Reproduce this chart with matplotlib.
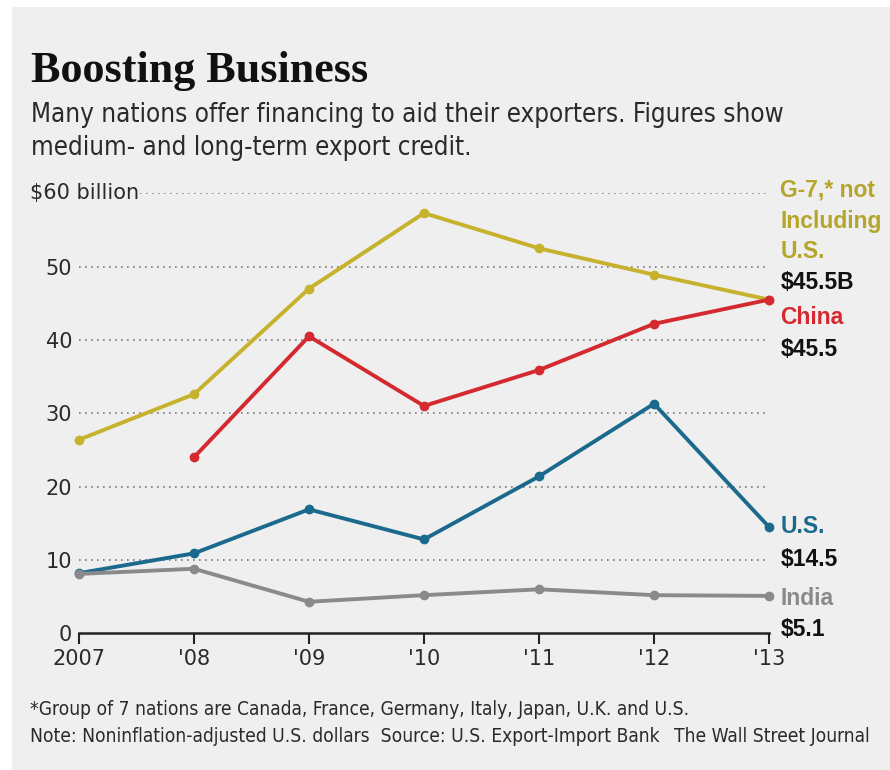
import matplotlib
matplotlib.use('Agg')
import matplotlib.pyplot as plt

# export credit, $ billions
years = [2007, 2008, 2009, 2010, 2011, 2012, 2013]
year_labels = ['2007', "'08", "'09", "'10", "'11", "'12", "'13"]
g7 = [26.4, 32.6, 47.0, 57.3, 52.5, 48.9, 45.5]
china_years = [2008, 2009, 2010, 2011, 2012, 2013]
china = [24.0, 40.5, 31.0, 35.9, 42.2, 45.5]
us = [8.2, 10.9, 16.9, 12.8, 21.4, 31.3, 14.5]
india = [8.1, 8.8, 4.3, 5.2, 6.0, 5.2, 5.1]
yticks = [0, 10, 20, 30, 40, 50, 60]
ytick_labels = ['0', '10', '20', '30', '40', '50', '']

W, H = 890, 770
BG = '#efefef'
C_G7 = '#c6b22c'
C_G7_TXT = '#b5a62a'
C_CHINA = '#d3292f'
C_US = '#1b6a8e'
C_INDIA = '#8a8a8a'
C_TXT = '#2a2a2a'
NARROW = dict(family=['DejaVu Sans'], fontstretch='condensed')

fig = plt.figure(figsize=(W / 100, H / 100), dpi=100)
fig.patch.set_facecolor('white')
fig.patches.append(plt.Rectangle((12 / W, 0), 1 - 12 / W, 1 - 7 / H, transform=fig.transFigure,
                                 facecolor=BG, edgecolor='none', zorder=-10))
renderer = fig.canvas.get_renderer()


def px(x, y):
    return x / W, 1 - y / H


def fit_text(x, y, s, width, size, **kw):
    t = fig.text(*px(x, y), s, fontsize=size, va='baseline', **kw)
    w = t.get_window_extent(renderer).width
    t.set_fontsize(size * width / w)
    return t


# title and subtitle
fit_text(31, 82, 'Boosting Business', 337, 30, family=['Liberation Serif', 'DejaVu Serif'],
         fontweight='bold', color='#111111')
sub = fit_text(31, 122, 'Many nations offer financing to aid their exporters. Figures show', 752, 19,
               color=C_TXT, **NARROW)
fig.text(*px(31, 155), 'medium- and long-term export credit.', fontsize=sub.get_fontsize(),
         color=C_TXT, va='baseline', **NARROW)

# chart
ax = fig.add_axes([79 / W, 1 - 633.3 / H, (769 - 79) / W, (633.3 - 193.3) / H])
ax.set_facecolor('none')
ax.set_xlim(2007, 2013)
ax.set_ylim(0, 60)
for s in ['top', 'right', 'left']:
    ax.spines[s].set_visible(False)
ax.spines['bottom'].set_color('#222222')
ax.spines['bottom'].set_linewidth(1.8)

for v in yticks[1:]:
    x0 = 2007.53 if v == 60 else 2007
    ax.hlines(v, x0, 2013, colors='#7a7a7a', linestyles=(0, (1, 2.6)), linewidth=1.2, zorder=1)

ax.set_xticks(years)
ax.set_xticklabels(year_labels)
ax.tick_params(axis='x', direction='out', length=8, width=1.5, color='#222222',
               labelsize=15, labelcolor=C_TXT, pad=3)
ax.set_yticks(yticks)
ax.set_yticklabels(ytick_labels)
ax.tick_params(axis='y', length=0, labelsize=15, labelcolor=C_TXT, pad=5)
fig.text(*px(30, 193), '$60 billion', fontsize=15, color=C_TXT, va='center', ha='left')

kw = dict(linewidth=2.8, marker='o', markersize=6, clip_on=False)
ax.plot(years, g7, color=C_G7, zorder=3, **kw)
ax.plot(china_years, china, color=C_CHINA, zorder=4, **kw)
ax.plot(years, us, color=C_US, zorder=3, **kw)
ax.plot(years, india, color=C_INDIA, zorder=4, **kw)

# end labels
lab = dict(fontsize=16.5, fontweight='bold', va='center', ha='left', clip_on=False,
           family=['Liberation Sans', 'DejaVu Sans'])
xl = 2013.1
ax.text(xl, 60.5, 'G-7,* not', color=C_G7_TXT, **lab)
ax.text(xl, 56.1, 'Including', color=C_G7_TXT, **lab)
ax.text(xl, 52.0, 'U.S.', color=C_G7_TXT, **lab)
ax.text(xl, 47.8, '$45.5B', color='#111111', **lab)
ax.text(xl, 43.0, 'China', color=C_CHINA, **lab)
ax.text(xl, 38.7, '$45.5', color='#111111', **lab)
ax.text(xl, 14.5, 'U.S.', color=C_US, **lab)
ax.text(xl, 10.0, '$14.5', color='#111111', **lab)
ax.text(xl, 4.8, 'India', color=C_INDIA, **lab)
ax.text(xl, 0.5, '$5.1', color='#111111', **lab)

# footnotes
foot = fit_text(30, 715, '*Group of 7 nations are Canada, France, Germany, Italy, Japan, U.K. and U.S.',
                663, 12.5, color=C_TXT, **NARROW)
fig.text(*px(30, 742), 'Note: Noninflation-adjusted U.S. dollars  Source: U.S. Export-Import Bank',
         fontsize=foot.get_fontsize(), color=C_TXT, va='baseline', **NARROW)
fig.text(*px(870, 742), 'The Wall Street Journal', fontsize=foot.get_fontsize(),
         color=C_TXT, va='baseline', ha='right', **NARROW)

fig.savefig('out.png', dpi=100, facecolor=fig.get_facecolor())
